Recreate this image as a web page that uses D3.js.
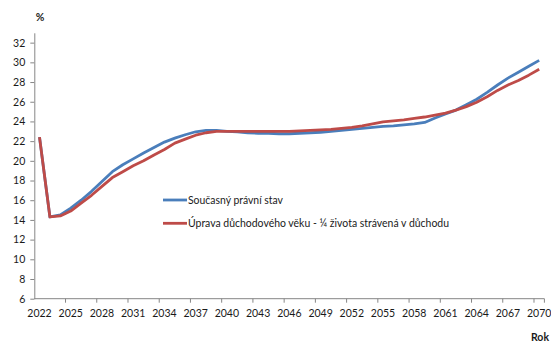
<!DOCTYPE html>
<html><head><meta charset="utf-8">
<script src="https://cdn.jsdelivr.net/npm/d3@7"></script>
<style>
html,body{margin:0;padding:0;background:#fff;}
text{font-family:Lato,"Open Sans",sans-serif;fill:#1a1a1a;}
</style></head>
<body><svg id="c" width="551" height="345"></svg>
<script>
const years = d3.range(2022, 2071);
const currentLaw = [22.4,14.3,14.5,15.2,16.0,16.9,17.9,18.9,19.6,20.2,20.8,21.35,21.9,22.3,22.65,22.95,23.1,23.1,23.0,22.95,22.85,22.8,22.8,22.75,22.75,22.8,22.85,22.9,23.0,23.1,23.2,23.3,23.4,23.5,23.55,23.65,23.75,23.9,24.35,24.75,25.15,25.7,26.25,26.95,27.7,28.4,29.0,29.6,30.2];
const reform = [22.4,14.3,14.4,14.9,15.7,16.5,17.4,18.3,18.9,19.5,20.0,20.6,21.15,21.8,22.2,22.6,22.85,23.0,23.0,23.0,23.0,23.0,23.0,23.0,23.0,23.05,23.1,23.15,23.2,23.3,23.4,23.55,23.75,23.95,24.05,24.15,24.3,24.45,24.65,24.85,25.15,25.5,25.95,26.5,27.15,27.7,28.15,28.7,29.3];
const yTicks = [6,8,10,12,14,16,18,20,22,24,26,28,30,32];
const xTickYears = years.filter((y,i)=>i%3===0);
const seriesNames = ["Současný právní stav","Úprava důchodového věku - ¼ života strávená v důchodu"];
const colors = ["#4a7ebb","#be4b48"];

const svg = d3.select("#c");
const x = d3.scaleBand().domain(years).range([34.3,544.4]).padding(0);
const y = d3.scaleLinear().domain([6,33]).range([298.7,32.8]);
const axisColor = "#868686";

// y axis
const gy = svg.append("g").attr("transform","translate(34.3,0)")
  .call(d3.axisLeft(y).tickValues(yTicks).tickSize(4).tickPadding(5).tickSizeOuter(0));
gy.select(".domain").attr("stroke",axisColor);
gy.selectAll(".tick line").attr("stroke",axisColor);
gy.selectAll(".tick text").attr("font-size","10.5px").attr("font-family","Lato").attr("fill","#1a1a1a");

// x axis
const gx = svg.append("g").attr("transform","translate(0,298.7)");
gx.append("line").attr("x1",x.range()[0]).attr("x2",x.range()[1]).attr("y1",0).attr("y2",0).attr("stroke",axisColor);
const bounds = years.filter((yv,i)=>i%3===0).map(yv=>x(yv)).concat([x.range()[1]]);
gx.selectAll("line.t").data(bounds.slice(1)).join("line").attr("class","t")
  .attr("x1",d=>d).attr("x2",d=>d).attr("y1",0).attr("y2",4).attr("stroke",axisColor);
gx.selectAll("text").data(xTickYears).join("text")
  .attr("x",d=>x(d)+x.bandwidth()/2).attr("y",18).attr("text-anchor","middle")
  .attr("font-size","10.5px").text(d=>d);

// axis titles
svg.append("text").attr("x",40).attr("y",21).attr("text-anchor","middle").attr("font-size","10.5px").attr("font-weight","bold").text("%");
svg.append("text").attr("x",540).attr("y",341).attr("text-anchor","middle").attr("font-size","10.5px").attr("font-weight","bold").text("Rok");

// lines
const line = d3.line().x((d,i)=>x(years[i])+x.bandwidth()/2).y(d=>y(d));
[currentLaw, reform].forEach((s,k)=>{
  svg.append("path").datum(s).attr("d",line).attr("fill","none")
    .attr("stroke",colors[k]).attr("stroke-width",2.8).attr("stroke-linejoin","round");
});

// legend
const legY = [200,223.3];
const legW = [95,261];
seriesNames.forEach((n,k)=>{
  svg.append("line").attr("x1",163).attr("x2",187).attr("y1",legY[k]).attr("y2",legY[k])
    .attr("stroke",colors[k]).attr("stroke-width",2.8);
  svg.append("text").attr("x",188).attr("y",legY[k]+4).attr("font-size","10.5px")
    .attr("textLength",legW[k]).attr("lengthAdjust","spacingAndGlyphs").text(n);
});
</script></body></html>
